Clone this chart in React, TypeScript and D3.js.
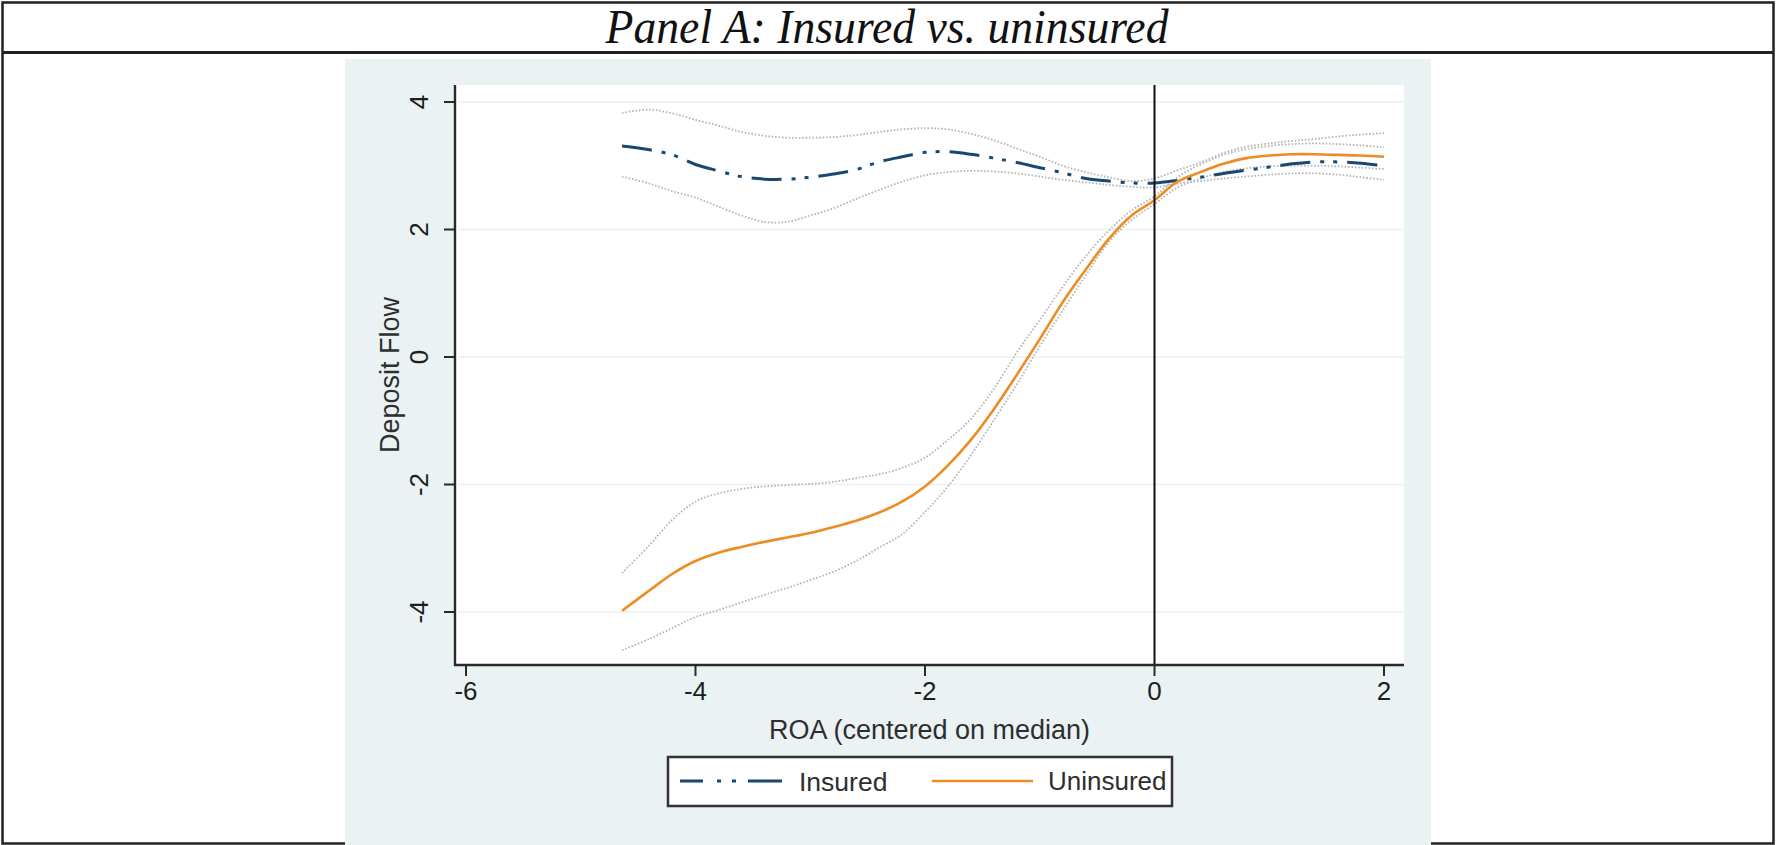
import React from 'react';
import * as d3 from 'd3';

// ROA grid (centered on median) and fitted deposit flows
const roaGrid = [-4.64, -4.4, -4.2, -4.0, -3.8, -3.6, -3.4, -3.2, -3.0, -2.8, -2.6, -2.4, -2.2, -2.0, -1.8, -1.6, -1.4, -1.2, -1.0, -0.8, -0.6, -0.4, -0.2, 0, 0.2, 0.4, 0.6, 0.8, 1.0, 1.2, 1.4, 1.6, 1.8, 2.0];

const insuredFit = [3.31, 3.25, 3.17, 3.02, 2.92, 2.83, 2.79, 2.79, 2.82, 2.87, 2.94, 3.06, 3.14, 3.21, 3.22, 3.18, 3.12, 3.05, 2.97, 2.89, 2.80, 2.76, 2.73, 2.73, 2.77, 2.82, 2.88, 2.93, 2.98, 3.03, 3.06, 3.06, 3.04, 3.00];
const insuredUpper = [3.83, 3.88, 3.82, 3.72, 3.63, 3.53, 3.47, 3.44, 3.44, 3.45, 3.48, 3.53, 3.57, 3.59, 3.57, 3.50, 3.40, 3.27, 3.14, 3.00, 2.90, 2.82, 2.76, 2.80, 2.93, 3.05, 3.20, 3.30, 3.35, 3.39, 3.42, 3.46, 3.49, 3.51];
const insuredLower = [2.83, 2.72, 2.60, 2.50, 2.36, 2.22, 2.12, 2.12, 2.22, 2.33, 2.48, 2.62, 2.75, 2.85, 2.90, 2.92, 2.91, 2.88, 2.83, 2.78, 2.74, 2.70, 2.67, 2.66, 2.72, 2.76, 2.80, 2.83, 2.86, 2.88, 2.88, 2.86, 2.82, 2.78];

const uninsuredFit = [-3.98, -3.66, -3.40, -3.20, -3.07, -2.98, -2.90, -2.83, -2.76, -2.67, -2.57, -2.44, -2.27, -2.03, -1.70, -1.30, -0.82, -0.28, 0.28, 0.86, 1.37, 1.85, 2.22, 2.46, 2.75, 2.90, 3.03, 3.12, 3.16, 3.18, 3.18, 3.17, 3.16, 3.14];
const uninsuredUpper = [-3.39, -2.95, -2.55, -2.27, -2.14, -2.07, -2.03, -2.01, -1.99, -1.96, -1.90, -1.84, -1.74, -1.58, -1.30, -0.97, -0.50, 0.07, 0.58, 1.10, 1.58, 1.98, 2.30, 2.52, 2.82, 3.02, 3.17, 3.26, 3.31, 3.34, 3.35, 3.34, 3.32, 3.29];
const uninsuredLower = [-4.60, -4.42, -4.25, -4.08, -3.97, -3.85, -3.73, -3.62, -3.50, -3.37, -3.20, -2.99, -2.78, -2.43, -2.03, -1.54, -0.99, -0.43, 0.17, 0.73, 1.28, 1.80, 2.15, 2.40, 2.66, 2.80, 2.90, 2.96, 2.99, 3.00, 3.00, 2.99, 2.97, 2.95];

const xTicks = [-6, -4, -2, 0, 2];
const yTicks = [-4, -2, 0, 2, 4];

const navy = '#1a476f';
const orange = '#ec8c22';
const bg = '#eaf2f3';
const ciGrey = '#b4b4b4';
const insuredDash = '30 10 4 9 4 10';
const sans = '"Liberation Sans", Arial, sans-serif';

const App = () => {
  const W = 1776;
  const H = 845;

  // plot region
  const left = 455, right = 1404, top = 85, bottom = 665;

  const x = d3.scaleLinear().domain([-6, 2]).range([466, 1384]);
  const y = d3.scaleLinear().domain([-4, 4]).range([612, 102]);

  const line = (vals: number[]) =>
    d3.line<number>()
      .x((_, i) => x(roaGrid[i]))
      .y(d => y(d))
      .curve(d3.curveCatmullRom.alpha(0.5))(vals) || '';

  const ci = { fill: 'none', stroke: ciGrey, strokeWidth: 1.8, strokeDasharray: '1.6 1.8' };

  return (
    <svg width={W} height={H} style={{ position: 'absolute', left: 0, top: 0, display: 'block' }}>
      <rect x={0} y={0} width={W} height={H} fill="#fff" />

      {/* frame and title row */}
      <rect x={2.5} y={2.5} width={W - 5} height={H - 4} fill="none" stroke="#222" strokeWidth={2.5} />
      <line x1={2} x2={W - 2} y1={52.5} y2={52.5} stroke="#222" strokeWidth={3} />
      <text x={887} y={43} fontFamily='"Liberation Serif", "Times New Roman", serif' fontStyle="italic"
        fontSize={49} textAnchor="middle" fill="#111" textLength={563} lengthAdjust="spacingAndGlyphs">
        Panel A: Insured vs. uninsured
      </text>

      {/* graph region */}
      <rect x={345} y={59} width={1431 - 345} height={H - 59} fill={bg} />
      <rect x={left} y={top} width={right - left} height={bottom - top} fill="#fff" />

      {/* grid */}
      {yTicks.map(t => (
        <line key={'g' + t} x1={left + 3} x2={right} y1={y(t)} y2={y(t)} stroke={bg} strokeWidth={1.6} />
      ))}

      {/* confidence bands */}
      <path d={line(insuredUpper)} {...ci} />
      <path d={line(insuredLower)} {...ci} />
      <path d={line(uninsuredUpper)} {...ci} />
      <path d={line(uninsuredLower)} {...ci} />

      {/* fitted lines */}
      <path d={line(insuredFit)} fill="none" stroke={navy} strokeWidth={3} strokeDasharray={insuredDash} />
      <path d={line(uninsuredFit)} fill="none" stroke={orange} strokeWidth={2.6} />

      {/* median line */}
      <line x1={x(0)} x2={x(0)} y1={top} y2={bottom} stroke="#111" strokeWidth={2} />

      {/* axes */}
      <line x1={left} x2={left} y1={top} y2={bottom + 1} stroke="#2a2a2a" strokeWidth={2.4} />
      <line x1={left - 1} x2={right} y1={bottom} y2={bottom} stroke="#2a2a2a" strokeWidth={2.4} />
      {yTicks.map(t => (
        <g key={'y' + t}>
          <line x1={left - 11} x2={left} y1={y(t)} y2={y(t)} stroke="#2a2a2a" strokeWidth={2} />
          <text transform={`translate(419,${y(t)}) rotate(-90)`} textAnchor="middle" dy="0.36em"
            fontFamily={sans} fontSize={26} fill="#1e1e1e">
            {t}
          </text>
        </g>
      ))}
      {xTicks.map(t => (
        <g key={'x' + t}>
          <line x1={x(t)} x2={x(t)} y1={bottom} y2={bottom + 11} stroke="#2a2a2a" strokeWidth={2} />
          <text x={x(t)} y={691} textAnchor="middle" dy="0.36em" fontFamily={sans} fontSize={26} fill="#1e1e1e">
            {t}
          </text>
        </g>
      ))}

      {/* axis titles */}
      <text x={(left + right) / 2} y={729} dy="0.36em" textAnchor="middle" fontFamily={sans} fontSize={27} fill="#2e2e2e">
        ROA (centered on median)
      </text>
      <text transform={`translate(389,${(top + bottom) / 2}) rotate(-90)`} dy="0.36em" textAnchor="middle"
        fontFamily={sans} fontSize={27} fill="#2e2e2e">
        Deposit Flow
      </text>

      {/* legend */}
      <rect x={668} y={757} width={1172 - 668} height={49} fill="#fff" stroke="#333" strokeWidth={2.5} />
      <line x1={680} x2={782} y1={781} y2={781} stroke={navy} strokeWidth={3} strokeDasharray="23 14 4 11 4 12 40" />
      <text x={799} y={781} dy="0.36em" fontFamily={sans} fontSize={26.5} fill="#2e2e2e">Insured</text>
      <line x1={932} x2={1033} y1={781} y2={781} stroke={orange} strokeWidth={2.6} />
      <text x={1048} y={781} dy="0.36em" fontFamily={sans} fontSize={26} fill="#2e2e2e">Uninsured</text>
    </svg>
  );
};

export default App;
